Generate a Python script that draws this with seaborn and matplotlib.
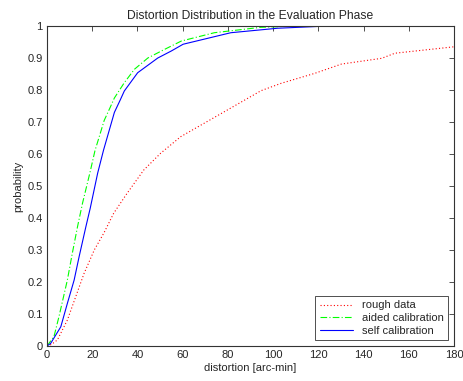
import matplotlib
matplotlib.use("Agg")
import matplotlib.pyplot as plt
import seaborn as sns
import pandas as pd

rough_x = [0, 2, 4.6, 9, 12.7, 16.4, 20.9, 25.3, 29.5, 35.4, 42.8, 50.2, 59.1, 68, 78.4, 94.7, 103.6, 118.4, 130.2, 148, 153.9, 180]
rough_y = [0, 0.005, 0.019, 0.081, 0.154, 0.227, 0.30, 0.355, 0.415, 0.477, 0.55, 0.602, 0.654, 0.69, 0.732, 0.798, 0.821, 0.852, 0.881, 0.899, 0.915, 0.935]

aided_x = [0, 3.1, 5.3, 9.0, 11.2, 13.5, 15.7, 19.1, 21.2, 25.3, 27.9, 29.8, 34.2, 38.7, 44.6, 50.6, 59.4, 74, 94.7, 112, 180]
aided_y = [0, 0.03, 0.092, 0.206, 0.29, 0.373, 0.446, 0.545, 0.61, 0.705, 0.745, 0.775, 0.823, 0.865, 0.90, 0.922, 0.953, 0.979, 0.996, 1.0, 1.0]

self_x = [0, 1.6, 6.1, 9.0, 12, 14.2, 17.2, 19.1, 22.4, 25.0, 29.8, 32.4, 34.2, 40.1, 46.1, 49, 55, 60.2, 81.3, 102, 124.3, 180]
self_y = [0, 0.008, 0.06, 0.133, 0.206, 0.279, 0.373, 0.43, 0.54, 0.612, 0.73, 0.769, 0.797, 0.854, 0.885, 0.90, 0.922, 0.943, 0.979, 0.993, 1.0, 1.0]

series_names = ["rough data", "aided calibration", "self calibration"]
x_ticks = [0, 20, 40, 60, 80, 100, 120, 140, 160, 180]
y_ticks = [0, 0.1, 0.2, 0.3, 0.4, 0.5, 0.6, 0.7, 0.8, 0.9, 1]

sns.set_style("white")
plt.rcParams["font.family"] = ["Liberation Sans", "DejaVu Sans"]
plt.rcParams["font.size"] = 8

df = pd.concat([
    pd.DataFrame({"x": rough_x, "y": rough_y, "series": series_names[0]}),
    pd.DataFrame({"x": aided_x, "y": aided_y, "series": series_names[1]}),
    pd.DataFrame({"x": self_x, "y": self_y, "series": series_names[2]}),
], ignore_index=True)

fig = plt.figure(figsize=(4.63, 3.81), dpi=100)
ax = fig.add_axes([47 / 463, 35 / 381, 407 / 463, 320 / 381])

colors = {"rough data": "#ff0000", "aided calibration": "#00ff00", "self calibration": "#0000ff"}
styles = {"rough data": (0, (1, 2)), "aided calibration": (0, (6, 2, 1, 2)), "self calibration": "-"}
for name in series_names:
    sub = df[df["series"] == name]
    sns.lineplot(data=sub, x="x", y="y", ax=ax, color=colors[name], linestyle=styles[name],
                 linewidth=0.8, estimator=None, sort=False, label=name)

ax.set_xlim(0, 180)
ax.set_ylim(0, 1)
ax.set_xticks(x_ticks)
ax.set_xticklabels([str(t) for t in x_ticks])
ax.set_yticks(y_ticks)
ax.set_yticklabels(["0", "0.1", "0.2", "0.3", "0.4", "0.5", "0.6", "0.7", "0.8", "0.9", "1"])
ax.tick_params(direction="in", top=True, right=True, length=3.5, width=0.6, labelsize=8, pad=3, color="#333333")
for s in ax.spines.values():
    s.set_visible(True)
    s.set_color("#333333")
    s.set_linewidth(0.8)

ax.set_xlabel("distortion [arc-min]", fontsize=8, labelpad=2)
ax.set_ylabel("probability", fontsize=8, labelpad=3)
ax.set_title("Distortion Distribution in the Evaluation Phase", fontsize=8.7, pad=5)

leg = ax.legend(loc="lower right", fontsize=8, frameon=True, fancybox=False, edgecolor="black",
                handlelength=3, borderpad=0.4, labelspacing=0.25, borderaxespad=0.5)
leg.get_frame().set_linewidth(0.6)

fig.savefig("out.png", dpi=100)
